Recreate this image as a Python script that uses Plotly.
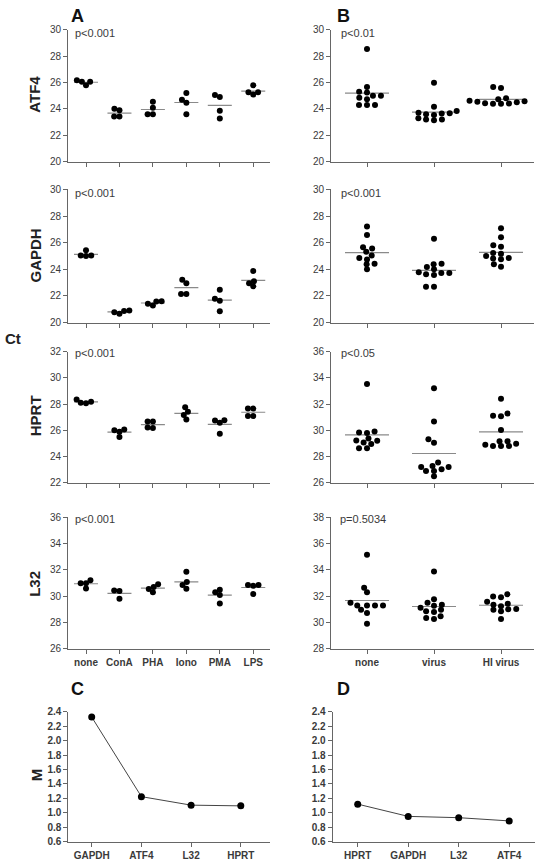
import math
import plotly.graph_objects as go

# ---------------- data ----------------
groups_A = ["none", "ConA", "PHA", "Iono", "PMA", "LPS"]
groups_B = ["none", "virus", "HI virus"]

atf4_A = [[26.05, 25.8, 26.18, 26.05],
          [23.9, 24.02, 23.42, 23.42],
          [24.1, 24.54, 23.6, 23.6],
          [24.69, 25.2, 24.47, 23.6],
          [25.06, 24.9, 23.87, 23.28],
          [25.26, 25.8, 25.26, 25.09]]
gapdh_A = [[25.04, 24.99, 25.43, 25.04],
           [20.86, 20.67, 20.91, 20.77],
           [21.58, 21.28, 21.6, 21.41],
           [23.21, 22.96, 22.15, 22.15],
           [22.47, 21.78, 21.63, 20.84],
           [23.88, 23.11, 22.96, 22.72]]
hprt_A = [[28.17, 28.05, 28.35, 28.1],
          [26.0, 26.05, 25.88, 25.48],
          [26.67, 26.67, 26.17, 26.2],
          [27.41, 27.75, 27.16, 26.81],
          [26.74, 26.57, 26.77, 25.73],
          [27.65, 27.65, 27.09, 27.09]]
l32_A = [[30.98, 31.2, 30.98, 30.58],
         [30.43, 30.38, 29.79],
         [30.68, 30.9, 30.53, 30.28],
         [31.07, 31.84, 30.83, 30.55],
         [30.28, 30.08, 30.48, 29.44],
         [30.83, 30.78, 30.83, 30.16]]

atf4_B = [[28.54, 25.66, 25.31, 25.24, 24.99, 24.99, 24.84, 24.74, 24.29, 24.29, 24.29],
          [25.98, 24.17, 23.85, 23.72, 23.67, 23.65, 23.6, 23.55, 23.3, 23.2, 23.15, 23.2],
          [25.66, 25.58, 24.81, 24.74, 24.62, 24.59, 24.54, 24.5, 24.44, 24.42, 24.39, 24.39]]
gapdh_B = [[27.21, 26.57, 25.56, 25.65, 25.31, 25.04, 24.84, 24.74, 24.42, 24.37, 24.0],
           [26.3, 24.37, 24.42, 24.17, 24.0, 23.73, 23.73, 23.78, 23.63, 23.58, 22.69, 22.69],
           [27.09, 26.4, 25.8, 25.7, 25.23, 25.16, 24.99, 24.84, 24.81, 24.75, 24.37, 24.2]]
hprt_B = [[33.53, 29.9, 29.83, 29.78, 29.36, 29.21, 29.19, 29.06, 28.94, 28.62, 28.62],
          [33.21, 30.67, 29.31, 29.04, 27.53, 27.19, 27.19, 27.26, 26.89, 26.89, 27.01, 26.49],
          [32.4, 31.28, 31.06, 31.11, 30.02, 28.96, 29.16, 29.16, 28.79, 28.79, 28.79, 28.89]]
l32_B = [[35.13, 32.63, 32.28, 31.49, 31.29, 31.29, 31.29, 31.29, 30.96, 30.71, 29.9],
         [33.87, 31.75, 31.34, 31.11, 31.27, 31.49, 30.84, 30.96, 30.78, 30.46, 30.25, 30.33],
         [32.13, 31.9, 31.97, 31.57, 31.22, 31.34, 31.42, 31.01, 30.96, 30.84, 31.0, 30.25]]

genes_C = ["GAPDH", "ATF4", "L32", "HPRT"]
M_C = [2.327, 1.223, 1.105, 1.095]
genes_D = ["HPRT", "GAPDH", "L32", "ATF4"]
M_D = [1.119, 0.949, 0.931, 0.886]

row_genes = ["ATF4", "GAPDH", "HPRT", "L32"]
pvals_A = ["p<0.001", "p<0.001", "p<0.001", "p<0.001"]
pvals_B = ["p<0.01", "p<0.001", "p<0.05", "p=0.5034"]
yr_A = [(20, 30), (20, 30), (22, 32), (26, 36)]
yr_B = [(20, 30), (20, 30), (26, 36), (28, 38)]

# ---------------- layout geometry (pixels) ----------------
W, H = 536, 865
FONT = "Liberation Sans, Arial, sans-serif"
AXC = "#666666"
TXT = "#3a3a3a"
colA = (68, 270, 86, 33.45)    # left, right, first tick, spacing
colB = (331, 534, 367, 67.0)
rows = [(24, 158), (186, 321), (350.5, 483.3), (518.3, 651.7)]
rowC = (715.7, 847.3)
colC = (68.3, 270, 91.7, 49.7)
colD = (332.7, 535, 357.7, 50.5)
DOT = 6
SW_A = (5.3, 5.3)   # swarm spacing (horizontal, vertical) in px
SW_B = (8.0, 5.0)


def xd(px):
    return px / W


def yd(py):
    return 1 - py / H


def swarm(vals, ppx, ppy, sx, sy):
    order = sorted(range(len(vals)), key=lambda i: vals[i])
    placed = []
    out = [0.0] * len(vals)

    def ok(c, y):
        return all(((c - xj) / sx) ** 2 + ((y - yj) / sy) ** 2 >= 1 - 1e-6 for (xj, yj) in placed)

    for i in order:
        y = vals[i] * ppy
        cands = [0.0]
        for (xj, yj) in placed:
            dy = abs(y - yj)
            if dy < sy:
                dx = sx * math.sqrt(1 - (dy / sy) ** 2)
                cands += [xj + dx, xj - dx]
        cands.sort(key=lambda c: (abs(c), c))
        for c in cands:
            if ok(c, y):
                break
        placed.append((c, y))
        out[i] = c / ppx
    return out


fig = go.Figure()
layout = dict(width=W, height=H, margin=dict(l=0, r=0, t=0, b=0),
              paper_bgcolor="white", plot_bgcolor="white", showlegend=False,
              font=dict(family=FONT, color=TXT))
annotations = []
axis_n = [0]


def add_axes(col, row, xr, yr, last, ticktext, ydtick, ybold=False):
    axis_n[0] += 1
    n = axis_n[0]
    xa = "xaxis" if n == 1 else f"xaxis{n}"
    ya = "yaxis" if n == 1 else f"yaxis{n}"
    xs = "x" if n == 1 else f"x{n}"
    ys = "y" if n == 1 else f"y{n}"
    layout[xa] = dict(domain=[xd(col[0]), xd(col[1])], range=list(xr), anchor=ys,
                      showline=True, linecolor=AXC, linewidth=1, ticks="outside",
                      ticklen=4, tickcolor=AXC, showgrid=False, zeroline=False,
                      tickvals=list(range(len(ticktext))), ticktext=ticktext,
                      showticklabels=last,
                      tickfont=dict(size=10, family=FONT, color=TXT, weight="bold"))
    layout[ya] = dict(domain=[yd(row[1]), yd(row[0])], range=list(yr), anchor=xs,
                      showline=True, linecolor=AXC, linewidth=1, ticks="outside",
                      ticklen=4, tickcolor=AXC, showgrid=False, zeroline=False,
                      dtick=ydtick, tick0=yr[0],
                      tickfont=dict(size=10, family=FONT, color=TXT,
                                    weight="bold" if ybold else "normal"))
    if ybold:
        layout[ya]["tickformat"] = ".1f"
    return xs, ys


def scatter_panel(data, col, row, yr, groups, last, half_px, sw):
    ppx = col[3]
    ppy = (row[1] - row[0]) / (yr[1] - yr[0])
    xr = ((col[0] - col[2]) / ppx, (col[1] - col[2]) / ppx)
    xs, ys = add_axes(col, row, xr, yr, last, groups, 2)
    half = half_px / ppx
    for gi, vals in enumerate(data):
        offs = swarm(vals, ppx, ppy, sw[0], sw[1])
        mean = sum(vals) / len(vals)
        fig.add_trace(go.Scatter(x=[gi - half, gi + half], y=[mean, mean], mode="lines",
                                 line=dict(color="#8a8a8a", width=1.2), xaxis=xs, yaxis=ys,
                                 hoverinfo="skip"))
        fig.add_trace(go.Scatter(x=[gi + o for o in offs], y=vals, mode="markers",
                                 marker=dict(color="black", size=DOT), xaxis=xs, yaxis=ys))


def note(text, px, py, size, color, xanchor="center", angle=0):
    annotations.append(dict(x=xd(px), y=yd(py), xref="paper", yref="paper", text=text,
                            textangle=angle, showarrow=False, xanchor=xanchor, yanchor="middle",
                            font=dict(size=size, color=color, family=FONT)))


dataA = [atf4_A, gapdh_A, hprt_A, l32_A]
dataB = [atf4_B, gapdh_B, hprt_B, l32_B]
p_y = [27.5, 190, 352, 520]
for r in range(4):
    last = r == 3
    scatter_panel(dataA[r], colA, rows[r], yr_A[r], groups_A, last, 12, SW_A)
    scatter_panel(dataB[r], colB, rows[r], yr_B[r], groups_B, last, 22, SW_B)
    note(pvals_A[r], 72.5, p_y[r], 11, TXT, "left")
    note(pvals_B[r], 339 if r < 3 else 337.5, p_y[r], 11, TXT, "left")

# C and D
for col, genes, M in [(colC, genes_C, M_C), (colD, genes_D, M_D)]:
    ppx = col[3]
    xr = ((col[0] - col[2]) / ppx, (col[1] - col[2]) / ppx)
    xs, ys = add_axes(col, rowC, xr, (0.6, 2.4), True, genes, 0.2, ybold=True)
    fig.add_trace(go.Scatter(x=list(range(len(genes))), y=M, mode="lines+markers",
                             line=dict(color="#444444", width=1),
                             marker=dict(color="black", size=DOT + 1), xaxis=xs, yaxis=ys))

# labels
row_label_y = [90, 253, 416, 586]
for g, yy in zip(row_genes, row_label_y):
    note(f"<b>{g}</b>", 35, yy, 15, "#222222", angle=-90)
note("<b>M</b>", 36, 780, 15, "#222222", angle=-90)
note("<b>Ct</b>", 13, 337, 15, "#222222")
for lab, px, py in [("A", 77, 10.5), ("B", 343, 10.5), ("C", 77, 693), ("D", 343, 693)]:
    note(f"<b>{lab}</b>", px, py, 18, "#111111")

layout["annotations"] = annotations
fig.update_layout(**layout)
fig.write_html("out.html", config={"displayModeBar": False},
               post_script="document.body.style.margin='0';")
